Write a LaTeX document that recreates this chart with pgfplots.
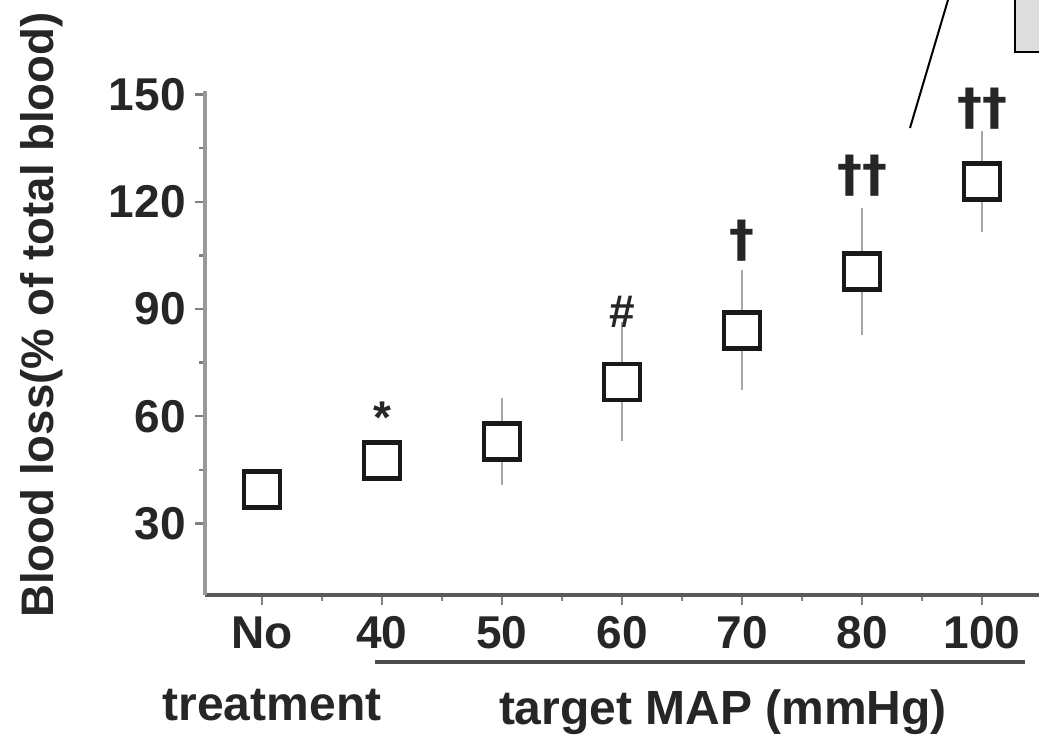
\documentclass[border=0pt]{standalone}
\usepackage{fontspec}
\setmainfont{Liberation Sans}
\newfontfamily\djv{DejaVu Sans}
\usepackage{pgfplots}
\pgfplotsset{compat=1.18}
\begin{document}
\begin{tikzpicture}
\useasboundingbox (0,0) rectangle (259.75pt,186.25pt);
\begin{axis}[
 at={(51.25pt,37.5pt)}, anchor=south west,
 width=208.5pt, height=126pt, scale only axis,
 xmin=-0.475, xmax=6.475, ymin=10, ymax=151,
 axis lines=left, axis line style={-},
 x axis line style={draw=black!65, line width=1pt},
 y axis line style={draw=black!40, line width=1.2pt},
 xtick={0,...,6}, xticklabels={No,40,50,60,70,80,100},
 ytick={30,60,90,120,150},
 minor x tick num=1, minor y tick num=1,
 tick align=outside, major tick length=2.5pt, minor tick length=1.5pt,
 tick style={black!50, line width=0.6pt},
 ticklabel style={font=\fontsize{11.5}{13}\selectfont\bfseries, text=black!85},
 yticklabel style={xshift=1.2pt},
 xticklabel style={yshift=0.6pt},
 /pgf/number format/assume math mode=true,
 clip=false,
]
\addplot[draw=none, mark=none, error bars/.cd, y dir=both, y explicit,
  error bar style={black!35, line width=0.7pt},
  error mark options={black!35, mark size=2pt, line width=0.7pt}]
 table[x=x, y=y, y error=e] {
x y e
0 39.6 0
1 47.7 2
2 52.9 10
3 69.6 14.4
4 84.1 14.6
5 100.4 15.5
6 125.6 11.9
};
\addplot[only marks, mark=square*, mark size=4.5pt,
  mark options={fill=white, draw=black!90, line width=1.2pt}]
 table[x=x, y=y] {
x y
0 39.6
1 47.7
2 52.9
3 69.6
4 84.1
5 100.4
6 125.6
};
\addplot[draw=none, mark=none, nodes near coords, point meta=explicit symbolic,
  nodes near coords style={anchor=center, font=\fontsize{11.5}{13}\selectfont\bfseries, text=black!85}]
 coordinates {(1,59.5)[*] (3,89.3)[\#]};
\addplot[draw=none, mark=none, nodes near coords, point meta=explicit symbolic,
  nodes near coords style={anchor=center, font=\djv\fontsize{12.5}{14}\selectfont\bfseries, text=black!85}]
 coordinates {(4,109.2)[†] (5,127.3)[††] (6,146.1)[††]};
\end{axis}
\begin{scope}[text=black!85]
\node[rotate=90, font=\fontsize{11.4}{13}\selectfont\bfseries] at (10.5pt,107.5pt) {Blood loss(\% of total blood)};
\node[font=\fontsize{12}{14}\selectfont\bfseries] at (68pt,10pt) {treatment};
\node[font=\fontsize{12}{14}\selectfont\bfseries] at (180.75pt,8.25pt) {target MAP (mmHg)};
\end{scope}
\draw[black!70, line width=0.8pt] (93.75pt,20.75pt) -- (256.25pt,20.75pt);
\draw[black, line width=0.5pt] (227.5pt,154.25pt) -- (237pt,186.25pt);
\draw[fill=black!13, draw=black, line width=0.6pt] (253.75pt,173.25pt) rectangle (262pt,187pt);
\end{tikzpicture}
\end{document}
